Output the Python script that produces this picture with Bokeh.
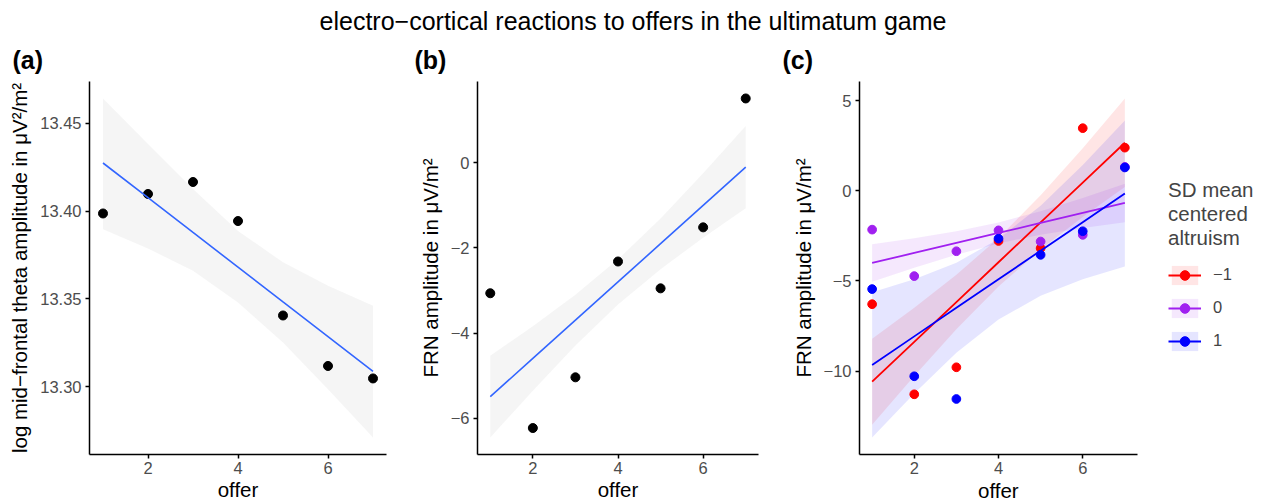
from bokeh.plotting import figure
from bokeh.models import FixedTicker, Label, Legend, LegendItem, Range1d, Title
from bokeh.layouts import column, row
from bokeh.embed import file_html
from bokeh.resources import INLINE

FONT = "Liberation Sans"

# ---------------- data ----------------
offer = [1, 2, 3, 4, 5, 6, 7]
x_ticks = [2, 4, 6]

# panel (a): log mid-frontal theta amplitude
theta = [13.3986, 13.4097, 13.4165, 13.3943, 13.3406, 13.3119, 13.3048]
theta_fit = [13.4273, 13.4076, 13.3878, 13.3681, 13.3483, 13.3286, 13.3088]
theta_lo = [13.3897, 13.3787, 13.3660, 13.3480, 13.3253, 13.2987, 13.2712]
theta_hi = [13.4640, 13.4381, 13.4125, 13.3887, 13.3708, 13.3575, 13.3461]
theta_ticks = [13.30, 13.35, 13.40, 13.45]
theta_tick_labels = ["13.30", "13.35", "13.40", "13.45"]

# panel (b): FRN amplitude
frn = [-3.065, -6.227, -5.037, -2.32, -2.95, -1.519, 1.505]
frn_fit = [-5.49, -4.593, -3.696, -2.799, -1.902, -1.005, -0.108]
frn_lo = [-6.45, -5.35, -4.29, -3.33, -2.50, -1.76, -1.07]
frn_hi = [-4.53, -3.84, -3.10, -2.27, -1.31, -0.25, 0.86]
frn_ticks = [-6, -4, -2, 0]
frn_tick_labels = ["\u22126", "\u22124", "\u22122", "0"]

# panel (c): FRN amplitude by SD mean centered altruism
alt_labels = ["\u22121", "0", "1"]
alt_colors = ["#FF0000", "#A020F0", "#0000FF"]
frn_alt_m1 = [-6.29, -11.29, -9.79, -2.78, -3.18, 3.48, 2.40]
frn_alt_0 = [-2.15, -4.73, -3.35, -2.19, -2.81, -2.44, 1.33]
frn_alt_p1 = [-5.45, -10.29, -11.55, -2.65, -3.55, -2.24, 1.30]
fit_alt_m1 = [-10.59, -8.38, -6.17, -3.96, -1.75, 0.46, 2.67]
fit_alt_0 = [-4.00, -3.445, -2.89, -2.335, -1.78, -1.225, -0.67]
fit_alt_p1 = [-9.66, -8.075, -6.49, -4.905, -3.32, -1.735, -0.15]
hi_alt_m1 = [-8.20, -6.48, -4.66, -2.61, -0.24, 2.37, 5.13]
lo_alt_m1 = [-12.98, -10.28, -7.68, -5.31, -3.26, -1.45, 0.21]
hi_alt_0 = [-2.96, -2.625, -2.24, -1.755, -1.13, -0.395, 0.40]
lo_alt_0 = [-5.04, -4.265, -3.54, -2.915, -2.43, -2.055, -1.74]
hi_alt_p1 = [-5.63, -4.905, -3.99, -2.665, -0.82, 1.435, 3.90]
lo_alt_p1 = [-13.69, -11.245, -8.99, -7.145, -5.82, -4.905, -4.20]
alt_ticks = [-10, -5, 0, 5]
alt_tick_labels = ["\u221210", "\u22125", "0", "5"]

main_title = "electro\u2212cortical reactions to offers in the ultimatum game"
tags = ["(a)", "(b)", "(c)"]
x_label = "offer"
y_labels = ["log mid\u2212frontal theta amplitude in \u03bcV\u00b2/m\u00b2",
            "FRN amplitude in \u03bcV/m\u00b2",
            "FRN amplitude in \u03bcV/m\u00b2"]
legend_title = "SD mean\ncentered\naltruism"

# ---------------- layout constants ----------------
STRIP_H = 76
TOP, FRAME_H, BOTTOM = 5, 373, 50
X0, X1 = 0.7, 7.3


def expanded(lo_vals, hi_vals):
    lo, hi = min(lo_vals), max(hi_vals)
    pad = 0.05 * (hi - lo)
    return Range1d(lo - pad, hi + pad)


def make_panel(left, fw, right, yr, yticks, ylabs, ylabel, x_end=X1,
               with_xlabel=True):
    p = figure(frame_width=fw, frame_height=FRAME_H,
               min_border_left=left, min_border_right=right,
               min_border_top=TOP, min_border_bottom=BOTTOM,
               x_range=Range1d(X0, x_end), y_range=yr,
               output_backend="svg", toolbar_location=None, tools="",
               background_fill_color="white", border_fill_color="white",
               outline_line_color=None)
    p.grid.visible = False
    p.xaxis.ticker = FixedTicker(ticks=x_ticks)
    p.xaxis.bounds = (X0, X1)
    p.yaxis.ticker = FixedTicker(ticks=yticks)
    p.yaxis.major_label_overrides = {t: s for t, s in zip(yticks, ylabs)}
    if with_xlabel:
        p.xaxis.axis_label = x_label
    p.yaxis.axis_label = ylabel
    for ax in (p.xaxis, p.yaxis):
        ax.axis_line_color = "black"
        ax.axis_line_width = 1.5
        ax.major_tick_line_color = "black"
        ax.major_tick_line_width = 1.5
        ax.major_tick_in = 0
        ax.major_tick_out = 4
        ax.minor_tick_line_color = None
        ax.major_label_text_color = "#4D4D4D"
        ax.major_label_text_font = FONT
        ax.major_label_text_font_size = "16.5px"
        ax.axis_label_text_font = FONT
        ax.axis_label_text_font_size = "20.5px"
        ax.axis_label_text_font_style = "normal"
        ax.axis_label_text_color = "black"
    p.xaxis.major_label_standoff = 3
    p.xaxis.axis_label_standoff = 1
    p.yaxis.major_label_standoff = 4
    p.yaxis.axis_label_standoff = 6
    return p


# panel (a)
pa = make_panel(89, 297, 14, expanded(theta_lo + theta, theta_hi + theta),
                theta_ticks, theta_tick_labels, y_labels[0])
pa.varea(x=offer, y1=theta_lo, y2=theta_hi, fill_color="#999999", fill_alpha=0.1)
pa.scatter(x=offer, y=theta, size=9, color="black", marker="circle")
pa.line(x=offer, y=theta_fit, line_color="#3366FF", line_width=1.6)

# panel (b)
pb = make_panel(77, 281, 22, expanded(frn_lo + frn, frn_hi + frn),
                frn_ticks, frn_tick_labels, y_labels[1])
pb.varea(x=offer, y1=frn_lo, y2=frn_hi, fill_color="#999999", fill_alpha=0.1)
pb.scatter(x=offer, y=frn, size=9, color="black", marker="circle")
pb.line(x=offer, y=frn_fit, line_color="#3366FF", line_width=1.6)

# panel (c): plotting area 278 px wide, plus 128 px on the right for the legend
C_DATA_W, C_LEGEND_W = 278, 128
c_x_end = X0 + (X1 - X0) * (C_DATA_W + C_LEGEND_W) / C_DATA_W
pts = [frn_alt_m1, frn_alt_0, frn_alt_p1]
fits = [fit_alt_m1, fit_alt_0, fit_alt_p1]
his = [hi_alt_m1, hi_alt_0, hi_alt_p1]
los = [lo_alt_m1, lo_alt_0, lo_alt_p1]
all_lo = sum(los, []) + sum(pts, [])
all_hi = sum(his, []) + sum(pts, [])
pc = make_panel(79, C_DATA_W + C_LEGEND_W, 0, expanded(all_lo, all_hi),
                alt_ticks, alt_tick_labels, y_labels[2], x_end=c_x_end,
                with_xlabel=False)
# x axis title centred under the data area (not under the legend space)
pc.add_layout(Title(text=x_label, align="left",
                    offset=C_DATA_W / 2 - 20.5, standoff=1,
                    text_font=FONT, text_font_size="20.5px",
                    text_font_style="normal", text_color="black"), "below")
bands, lines, dots = [], [], []
for lo, hi, col in zip(los, his, alt_colors):
    bands.append(pc.varea(x=offer, y1=lo, y2=hi, fill_color=col, fill_alpha=0.1))
for ys, col in zip(pts, alt_colors):
    dots.append(pc.scatter(x=offer, y=ys, size=8.7, color=col, marker="circle"))
for ys, col in zip(fits, alt_colors):
    lines.append(pc.line(x=offer, y=ys, line_color=col, line_width=1.8))

items = [LegendItem(label=lab, renderers=[b, l, d])
         for lab, b, l, d in zip(alt_labels, bands, lines, dots)]
legend = Legend(items=items, location=(C_DATA_W + 31, 97),
                title=legend_title,
                title_text_font=FONT, title_text_font_size="20.5px",
                title_text_font_style="normal", title_standoff=8,
                title_text_line_height=1.0,
                label_text_font=FONT, label_text_font_size="16.5px",
                label_standoff=12, glyph_width=33, glyph_height=24,
                label_height=33, spacing=0, padding=10, margin=0,
                border_line_color=None, background_fill_alpha=0)
pc.add_layout(legend, "center")

# title strip with main title and panel tags
strip = figure(frame_width=1265, frame_height=STRIP_H, min_border=0,
               x_range=Range1d(0, 1265), y_range=Range1d(STRIP_H, 0),
               x_axis_type=None, y_axis_type=None,
               output_backend="svg", toolbar_location=None, tools="",
               outline_line_color=None)
strip.grid.visible = False
strip.add_layout(Label(x=632.5, y=20, text=main_title, text_align="center",
                       text_baseline="middle", text_font=FONT,
                       text_font_size="25px", text_color="black"))
for tx, tag in zip([12, 414, 782], tags):
    strip.add_layout(Label(x=tx, y=59, text=tag, text_align="left",
                           text_baseline="middle", text_font=FONT,
                           text_font_size="25px", text_font_style="bold",
                           text_color="black"))

layout = column(strip, row(pa, pb, pc, spacing=0), spacing=0)
open("out.html", "w").write(file_html(layout, INLINE))
